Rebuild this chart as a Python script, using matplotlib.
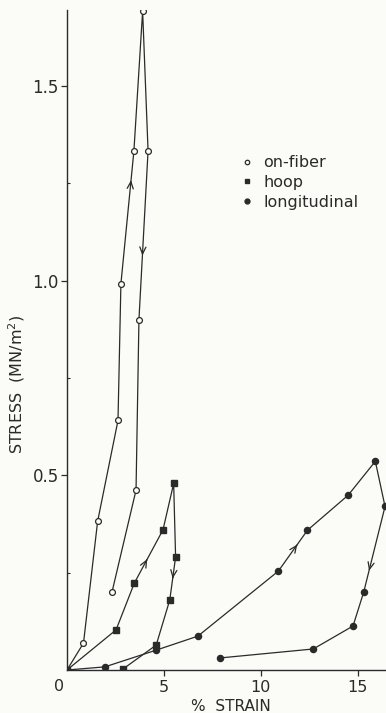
import matplotlib.pyplot as plt
from matplotlib.lines import Line2D

plt.rcParams['font.family'] = ['DejaVu Sans']

# on-fiber: loading then unloading
fiber_x = [0, 0.85, 1.58, 2.63, 2.78, 3.45, 3.9, 4.18, 3.71, 3.56, 2.32]
fiber_y = [0, 0.069, 0.382, 0.641, 0.992, 1.333, 1.692, 1.333, 0.90, 0.462, 0.20]

hoop_x = [0, 2.53, 3.47, 4.95, 5.5, 5.6, 5.3, 4.6, 2.9]
hoop_y = [0, 0.103, 0.223, 0.36, 0.479, 0.29, 0.18, 0.064, 0.003]

long_x = [0, 1.95, 4.6, 6.75, 10.9, 12.4, 14.5, 15.9, 16.4, 15.3, 14.75, 12.7, 7.9]
long_y = [0, 0.008, 0.051, 0.087, 0.254, 0.359, 0.449, 0.536, 0.42, 0.20, 0.113, 0.054, 0.031]

# (segment start index, position along the segment) for the direction arrows
fiber_arrows = [(4, 0.78), (7, 0.62)]
hoop_arrows = [(2, 0.45), (5, 0.5)]
long_arrows = [(4, 0.65), (8, 0.75)]

ink = '#2a2a2a'
bg = '#fbfbf7'

fig = plt.figure(figsize=(3.86, 7.13), dpi=100, facecolor=bg)
ax = fig.add_axes([67 / 386, 43 / 713, 1 - 67 / 386, 660 / 713], facecolor=bg)

ax.plot(fiber_x, fiber_y, '-o', color=ink, lw=0.9, ms=4.2, mfc=bg, mec=ink, mew=0.9)
ax.plot(hoop_x, hoop_y, '-s', color=ink, lw=0.9, ms=4.6, mfc=ink, mec=ink)
ax.plot(long_x, long_y, '-o', color=ink, lw=0.9, ms=4.4, mfc=ink, mec=ink)

def arrows(xs, ys, spec):
    for i, t in spec:
        x0, y0, x1, y1 = xs[i], ys[i], xs[i + 1], ys[i + 1]
        tip = (x0 + t * (x1 - x0), y0 + t * (y1 - y0))
        tail = (x0 + (t - 0.02) * (x1 - x0), y0 + (t - 0.02) * (y1 - y0))
        ax.annotate('', xy=tip, xytext=tail,
                    arrowprops=dict(arrowstyle='->,head_length=0.5,head_width=0.22',
                                    color=ink, lw=0.9, shrinkA=0, shrinkB=0))

arrows(fiber_x, fiber_y, fiber_arrows)
arrows(hoop_x, hoop_y, hoop_arrows)
arrows(long_x, long_y, long_arrows)

ax.set_xlim(0, 16.45)
ax.set_ylim(0, 1.695)
for s in ['top', 'right']:
    ax.spines[s].set_visible(False)
for s in ['left', 'bottom']:
    ax.spines[s].set_color(ink)
    ax.spines[s].set_linewidth(1.0)

ax.set_xticks([5, 10, 15])
ax.set_xticklabels(['5', '10', '15'])
ax.set_yticks([0.5, 1.0, 1.5])
ax.set_yticklabels(['0.5', '1.0', '1.5'])
ax.set_yticks([0.25, 0.75, 1.25], minor=True)
ax.tick_params(axis='both', which='major', direction='out', length=4, width=0.9,
               color=ink, labelcolor=ink, labelsize=12, pad=2)
ax.tick_params(axis='x', which='major', pad=3, labelsize=11.5)
ax.tick_params(axis='y', which='minor', direction='in', length=2, width=0.8, color=ink)

ax.text(-0.4, -0.043, '0', ha='center', va='center', fontsize=11.5, color=ink)
ax.text(8.45, -0.095, '%  STRAIN', ha='center', va='center', fontsize=11, color=ink)
ax.set_ylabel('STRESS  (MN/m$^2$)', fontsize=11.5, color=ink)
ax.yaxis.set_label_coords(-0.125, 0.433)

handles = [
    Line2D([], [], ls='none', marker='o', ms=3.2, mfc=bg, mec=ink, mew=0.9),
    Line2D([], [], ls='none', marker='s', ms=3.5, mfc=ink, mec=ink),
    Line2D([], [], ls='none', marker='o', ms=3.5, mfc=ink, mec=ink),
]
ax.legend(handles, ['on-fiber', 'hoop', 'longitudinal'], loc='upper left',
          bbox_to_anchor=(0.52, 0.792), frameon=False, fontsize=11.5,
          handlelength=0.8, handletextpad=0.6, labelspacing=0.3, borderpad=0,
          labelcolor=ink)

fig.savefig('out.png', dpi=100, facecolor=bg)
